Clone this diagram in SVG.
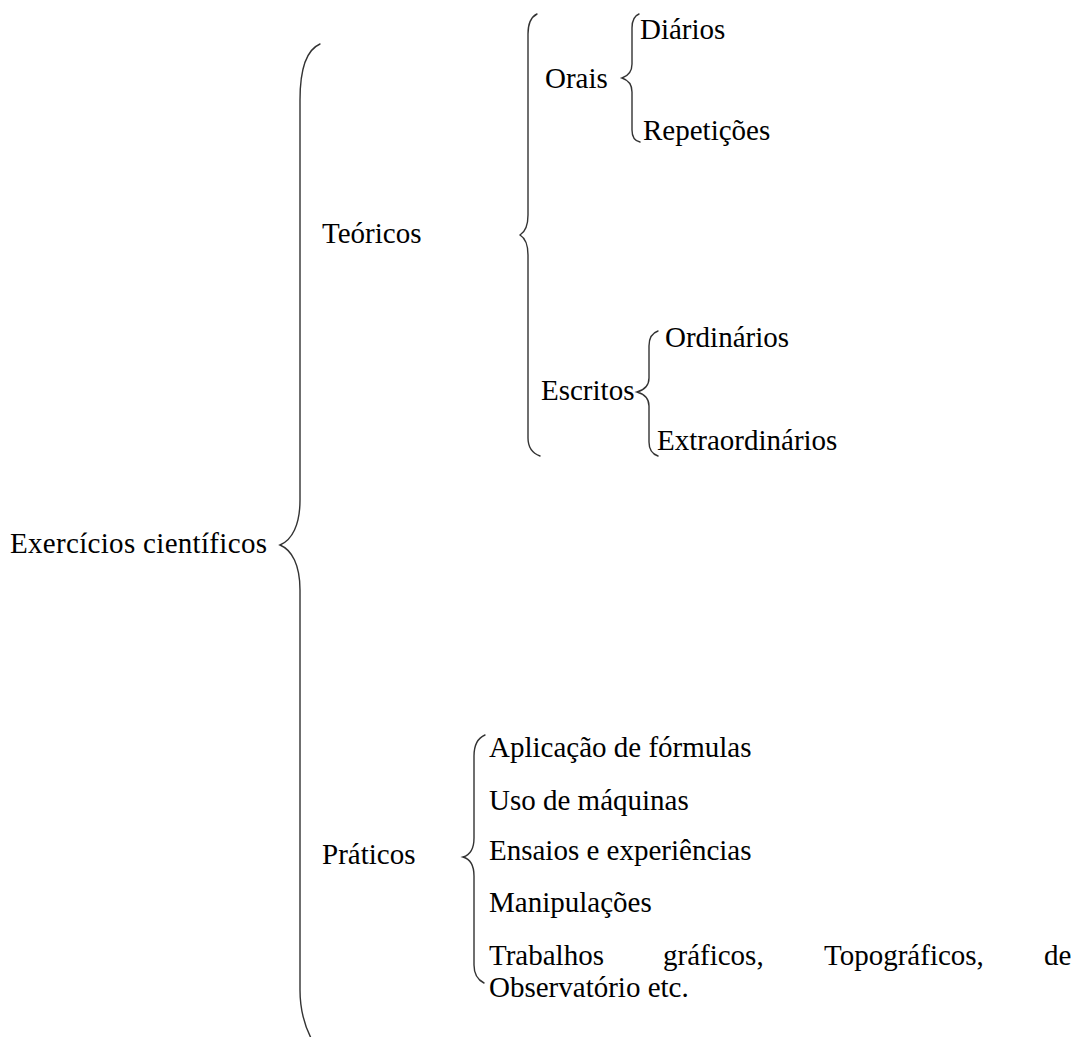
<svg xmlns="http://www.w3.org/2000/svg" width="1073" height="1037" viewBox="0 0 1073 1037">
<style>
text { font-family: "Liberation Serif", "Times New Roman", serif; font-size: 29px; fill: #000; }
.brace { fill: none; stroke: #333; stroke-width: 1.4; stroke-linecap: round; }
</style>
<rect width="1073" height="1037" fill="#fff"/>
<g id="connectors">
<path class="brace" d="M320,44 C306,50 300,70 300,100 L300,500 C300,525 292,540 280,545 C292,550 300,565 300,590 L300,990 C300,1010 304,1025 312,1040"/>
<path class="brace" d="M537,14 C531,17 528,24 528,34 L528,215 C528,226 525,232 520,235 C525,238 528,244 528,255 L528,438 C528,448 532,453 540,456"/>
<path class="brace" d="M639,14 C634,16 632,20 632,28 L632,64 C632,72 628,76 622,78 C628,80 632,84 632,92 L632,130 C632,137 635,141 640,142"/>
<path class="brace" d="M658,331 C652,333 649,338 649,346 L649,378 C649,386 644,390 637,392 C644,394 649,398 649,406 L649,442 C649,450 652,454 658,456"/>
<path class="brace" d="M485,735 C478,738 474,745 474,756 L474,838 C474,849 470,855 463,857 C470,859 474,865 474,876 L474,965 C474,975 478,980 484,983"/>
</g>
<g id="root"><text x="10" y="553" textLength="257" lengthAdjust="spacing">Exercícios científicos</text></g>
<g id="teoricos"><text x="322" y="243">Teóricos</text></g>
<g id="orais"><text x="545" y="88">Orais</text></g>
<g id="diarios"><text x="640" y="39">Diários</text></g>
<g id="repeticoes"><text x="643" y="140">Repetições</text></g>
<g id="escritos"><text x="541" y="400">Escritos</text></g>
<g id="ordinarios"><text x="665" y="347">Ordinários</text></g>
<g id="extraordinarios"><text x="657" y="450">Extraordinários</text></g>
<g id="praticos"><text x="322" y="864">Práticos</text></g>
<g id="aplicacao"><text x="489" y="757">Aplicação de fórmulas</text></g>
<g id="uso"><text x="489" y="810">Uso de máquinas</text></g>
<g id="ensaios"><text x="489" y="860">Ensaios e experiências</text></g>
<g id="manipulacoes"><text x="489" y="912">Manipulações</text></g>
<g id="trabalhos"><text y="965"><tspan x="489">Trabalhos</tspan><tspan x="663">gráficos,</tspan><tspan x="824">Topográficos,</tspan><tspan x="1044">de</tspan></text><text x="489" y="997">Observatório etc.</text></g>
</svg>
